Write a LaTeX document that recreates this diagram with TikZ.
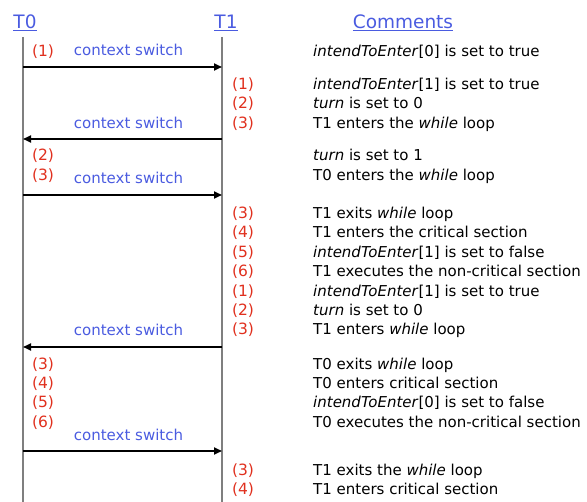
\documentclass[tikz,border=0pt]{standalone}
\usepackage{fontspec}
\setmainfont{DejaVu Sans}
\usetikzlibrary{arrows.meta, positioning}
\definecolor{SwitchBlue}{HTML}{4A5BE0}
\definecolor{StepRed}{HTML}{E0301E}
\definecolor{LifeGray}{HTML}{7F7F7F}
\tikzset{
  life/.style={draw=LifeGray, line width=1.3pt},
  msg/.style={draw=black, line width=1.8pt, -{Triangle[length=8pt,width=7pt]}},
  cslabel/.style={text=SwitchBlue, font=\fontsize{15}{17}\selectfont, inner sep=0pt},
  stepnum/.style={text=StepRed, font=\fontsize{15.5}{17}\selectfont, inner sep=0pt, anchor=base},
  comment/.style={text=black, font=\fontsize{15}{17}\selectfont, inner sep=0pt, anchor=base west},
  header/.style={text=SwitchBlue, font=\fontsize{18.5}{22}\selectfont, inner sep=0pt, anchor=base}
}

\begin{document}
\begin{tikzpicture}[x=1pt, y=-1pt]
  \useasboundingbox (0,0) rectangle (587,502);

  % Column headers
  \node[header] (hT0) at (25,29) {\underline{T0}};
  \node[header] (hT1) at (226,29) {\underline{T1}};
  \node[header] (hCom) at (403,29) {\underline{Comments}};

  % Lifelines
  \coordinate (t0top) at (23,37);
  \coordinate (t0bot) at (23,502);
  \coordinate (t1top) at (222,37);
  \coordinate (t1bot) at (222,502);
  \draw[life] (t0top) -- (t0bot);
  \draw[life] (t1top) -- (t1bot);

  % Context switches
  \coordinate (s1a) at (23,67);  \coordinate (s1b) at (222,67);
  \coordinate (s2a) at (222,139); \coordinate (s2b) at (23,139);
  \coordinate (s3a) at (23,195); \coordinate (s3b) at (222,195);
  \coordinate (s4a) at (222,347); \coordinate (s4b) at (23,347);
  \coordinate (s5a) at (23,451); \coordinate (s5b) at (222,451);
  \draw[msg] (s1a) -- node[cslabel, above=10pt, xshift=6pt] (cs1) {context switch} (s1b);
  \draw[msg] (s2a) -- node[cslabel, above=9pt, xshift=6pt] (cs2) {context switch} (s2b);
  \draw[msg] (s3a) -- node[cslabel, above=10pt, xshift=6pt] (cs3) {context switch} (s3b);
  \draw[msg] (s4a) -- node[cslabel, above=10pt, xshift=6pt] (cs4) {context switch} (s4b);
  \draw[msg] (s5a) -- node[cslabel, above=9pt, xshift=6pt] (cs5) {context switch} (s5b);

  % Steps of T0
  \node[stepnum] (l1) at (43,57) {(1)};
  \node[stepnum] (l2) at (43,161) {(2)};
  \node[stepnum] (l3) at (43,181) {(3)};
  \node[stepnum] (l4) at (43,370) {(3)};
  \node[stepnum] (l5) at (43,389) {(4)};
  \node[stepnum] (l6) at (43,408) {(5)};
  \node[stepnum] (l7) at (43,428) {(6)};

  % Steps of T1
  \node[stepnum] (r1) at (243,90) {(1)};
  \node[stepnum] (r2) at (243,109) {(2)};
  \node[stepnum] (r3) at (243,129) {(3)};
  \node[stepnum] (r4) at (243,219) {(3)};
  \node[stepnum] (r5) at (243,238) {(4)};
  \node[stepnum] (r6) at (243,258) {(5)};
  \node[stepnum] (r7) at (243,277) {(6)};
  \node[stepnum] (r8) at (243,297) {(1)};
  \node[stepnum] (r9) at (243,316) {(2)};
  \node[stepnum] (r10) at (243,335) {(3)};
  \node[stepnum] (r11) at (243,476) {(3)};
  \node[stepnum] (r12) at (243,495) {(4)};

  % Comments
  \node[comment] (c1) at (313,57) {\textit{intendToEnter}[0] is set to true};
  \node[comment] (c2) at (313,90) {\textit{intendToEnter}[1] is set to true};
  \node[comment] (c3) at (313,109) {\textit{turn} is set to 0};
  \node[comment] (c4) at (313,129) {T1 enters the \textit{while} loop};
  \node[comment] (c5) at (313,161) {\textit{turn} is set to 1};
  \node[comment] (c6) at (313,181) {T0 enters the \textit{while} loop};
  \node[comment] (c7) at (313,219) {T1 exits \textit{while} loop};
  \node[comment] (c8) at (313,238) {T1 enters the critical section};
  \node[comment] (c9) at (313,258) {\textit{intendToEnter}[1] is set to false};
  \node[comment] (c10) at (313,277) {T1 executes the non-critical section};
  \node[comment] (c11) at (313,297) {\textit{intendToEnter}[1] is set to true};
  \node[comment] (c12) at (313,316) {\textit{turn} is set to 0};
  \node[comment] (c13) at (313,335) {T1 enters \textit{while} loop};
  \node[comment] (c14) at (313,370) {T0 exits \textit{while} loop};
  \node[comment] (c15) at (313,389) {T0 enters critical section};
  \node[comment] (c16) at (313,408) {\textit{intendToEnter}[0] is set to false};
  \node[comment] (c17) at (313,428) {T0 executes the non-critical section};
  \node[comment] (c18) at (313,476) {T1 exits the \textit{while} loop};
  \node[comment] (c19) at (313,495) {T1 enters critical section};
\end{tikzpicture}
\end{document}
